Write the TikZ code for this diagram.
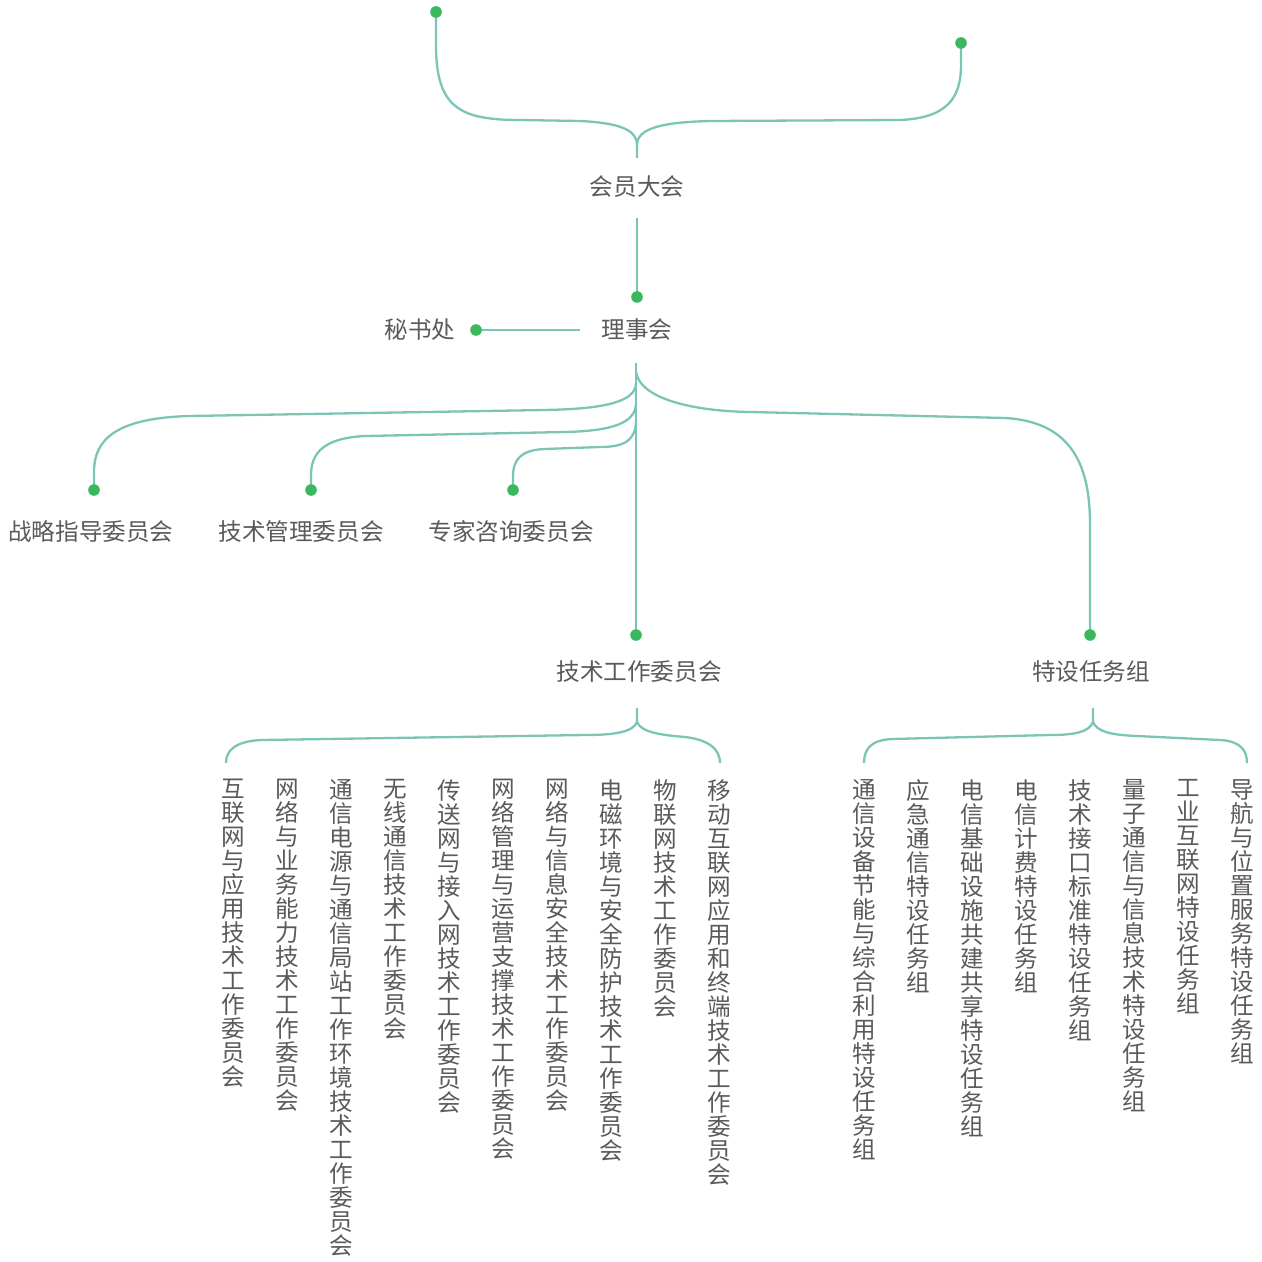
\documentclass[tikz,border=0pt]{standalone}
\usepackage{fontspec}
\setmainfont{Noto Sans CJK SC}
\definecolor{ln}{HTML}{7AC5B6}
\definecolor{dt}{HTML}{3BB75E}
\definecolor{tx}{HTML}{5A5A5A}
\ExplSyntaxOn
\NewDocumentCommand\vtxt{m}{\seq_set_split:Nnn \l_tmpa_seq {} {#1}\seq_use:Nn \l_tmpa_seq {\\}}
\ExplSyntaxOff
\pgfdeclarelayer{bg}\pgfsetlayers{bg,main}
\tikzset{
 conn/.style={draw=ln, line width=1.15pt},
 dotn/.style={circle, fill=dt, minimum size=5.8pt, inner sep=0pt},
 lbl/.style={text=tx, font=\fontsize{11.8}{12}\selectfont, inner sep=0pt},
 vlbl/.style={lbl, align=center, anchor=north},
}
\begin{document}
\begin{tikzpicture}[x=0.5pt,y=-0.5pt]
\useasboundingbox (0,0) rectangle (1262,1262);
% top
\node[dotn] (dL) at (436,12) {};
\node[dotn] (dR) at (961,43) {};
\coordinate (c0) at (637,145);
\coordinate (c0b) at (637,158);
\node[lbl] (hy) at (637,187) {会员大会};
\coordinate (hyb) at (637,218);
\node[dotn] (dLs) at (637,297) {};
\node[lbl] (ls) at (637,330) {理事会};
\node[lbl] (ms) at (420,330) {秘书处};
\node[dotn] (dMs) at (476,330) {};
\coordinate (msR) at (580,330);
\coordinate (lsb) at (636,363);
\coordinate (b0) at (636,372);
\coordinate (b1) at (636,383);
\coordinate (b2) at (636,403);
\coordinate (b3) at (636,420);
% second level
\node[dotn] (dZl) at (94,490) {};
\node[dotn] (dJs) at (311,490) {};
\node[dotn] (dZj) at (513,490) {};
\node[dotn] (dTw) at (636,635) {};
\node[dotn] (dTs) at (1090,635) {};
\node[lbl] (zl) at (91,532) {战略指导委员会};
\node[lbl] (js) at (301,532) {技术管理委员会};
\node[lbl] (zj) at (511,532) {专家咨询委员会};
\node[lbl] (tw) at (639,672) {技术工作委员会};
\node[lbl] (ts) at (1091,672) {特设任务组};
\coordinate (k1) at (637,708);
\coordinate (k1c) at (637,722);
\coordinate (k2) at (1093,708);
\coordinate (k2c) at (1093,722);
% vertical texts: technical committees
\node[vlbl] (w1) at (233,779) {\vtxt{互联网与应用技术工作委员会}};
\node[vlbl] (w2) at (287,779) {\vtxt{网络与业务能力技术工作委员会}};
\node[vlbl] (w3) at (341,779) {\vtxt{通信电源与通信局站工作环境技术工作委员会}};
\node[vlbl] (w4) at (395,779) {\vtxt{无线通信技术工作委员会}};
\node[vlbl] (w5) at (449,779) {\vtxt{传送网与接入网技术工作委员会}};
\node[vlbl] (w6) at (503,779) {\vtxt{网络管理与运营支撑技术工作委员会}};
\node[vlbl] (w7) at (557,779) {\vtxt{网络与信息安全技术工作委员会}};
\node[vlbl] (w8) at (611,779) {\vtxt{电磁环境与安全防护技术工作委员会}};
\node[vlbl] (w9) at (665,779) {\vtxt{物联网技术工作委员会}};
\node[vlbl] (w10) at (719,779) {\vtxt{移动互联网应用和终端技术工作委员会}};
% vertical texts: special task groups
\node[vlbl] (s1) at (864,779) {\vtxt{通信设备节能与综合利用特设任务组}};
\node[vlbl] (s2) at (918,779) {\vtxt{应急通信特设任务组}};
\node[vlbl] (s3) at (972,779) {\vtxt{电信基础设施共建共享特设任务组}};
\node[vlbl] (s4) at (1026,779) {\vtxt{电信计费特设任务组}};
\node[vlbl] (s5) at (1080,779) {\vtxt{技术接口标准特设任务组}};
\node[vlbl] (s6) at (1134,779) {\vtxt{量子通信与信息技术特设任务组}};
\node[vlbl] (s7) at (1188,779) {\vtxt{工业互联网特设任务组}};
\node[vlbl] (s8) at (1242,779) {\vtxt{导航与位置服务特设任务组}};
\begin{pgfonlayer}{bg}
% top brace
\draw[conn] (dL.center) -- (436,45) .. controls (436,108) and (460,120) .. (520,120) -- (580,121) .. controls (620,123) and (637,130) .. (c0) -- (c0b);
\draw[conn] (c0) .. controls (637,129) and (660,122) .. (712,121) -- (900,120) .. controls (950,118) and (961,95) .. (961,65) -- (dR.center);
\draw[conn] (hyb) -- (dLs.center);
\draw[conn] (dMs.center) -- (msR);
\draw[conn] (lsb) -- (dTw.center);
% branches
\draw[conn] (b1) .. controls (636,403) and (600,409) .. (545,410) -- (190,416) .. controls (115,418) and (94,440) .. (94,472) -- (dZl.center);
\draw[conn] (b2) .. controls (636,423) and (612,431) .. (565,432) -- (365,436) .. controls (325,438) and (311,452) .. (311,475) -- (dJs.center);
\draw[conn] (b3) .. controls (636,440) and (625,447) .. (600,447) -- (545,449) .. controls (520,450) and (513,460) .. (513,477) -- (dZj.center);
\draw[conn] (b0) .. controls (640,398) and (690,411) .. (750,412) -- (1005,418) .. controls (1075,422) and (1090,470) .. (1090,525) -- (dTs.center);
% lower braces
\draw[conn] (k1) -- (k1c) .. controls (633,732) and (615,735) .. (585,735) -- (262,740) .. controls (236,741) and (226,750) .. (226,763);
\draw[conn] (k1c) .. controls (641,732) and (660,735) .. (685,737) .. controls (710,740) and (720,750) .. (720,763);
\draw[conn] (k2) -- (k2c) .. controls (1089,732) and (1075,735) .. (1050,735) -- (892,739) .. controls (870,740) and (864,750) .. (864,763);
\draw[conn] (k2c) .. controls (1097,732) and (1112,735) .. (1137,736) -- (1220,740) .. controls (1240,741) and (1247,750) .. (1247,763);
\end{pgfonlayer}
\end{tikzpicture}
\end{document}
